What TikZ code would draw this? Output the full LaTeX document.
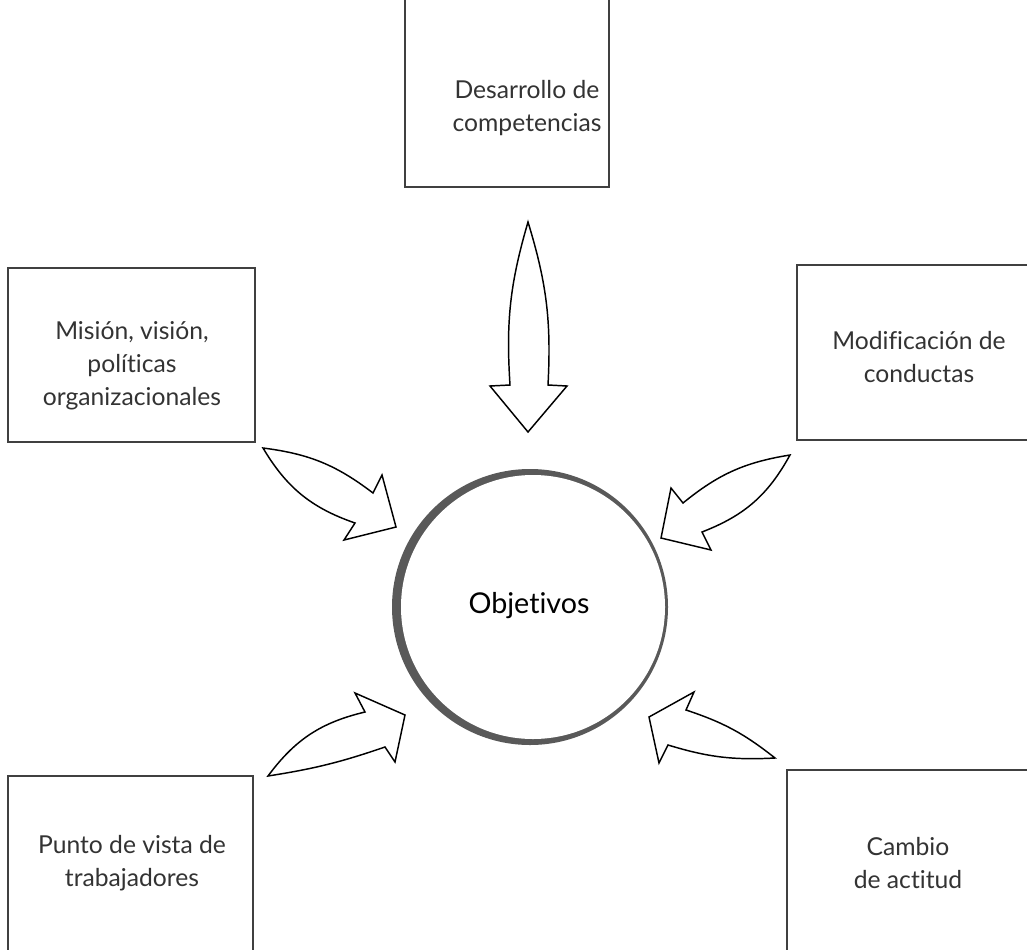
\documentclass[tikz,border=0pt]{standalone}
\usepackage{fontspec}
\setmainfont{Lato}[Ligatures=NoCommon]
\usetikzlibrary{calc}
\newcommand{\bladearrow}[8]{\filldraw[blade] #1 to[bend left=#7] #2 -- #3 -- #4 -- #5 -- #6 to[bend left=#8] #1 -- cycle;}

\begin{document}
\begin{tikzpicture}[x=0.75pt,y=-0.75pt,
    boxline/.style={draw=black!75,line width=1.9pt},
    boxtext/.style={align=center,font=\fontsize{18.5}{24.75}\selectfont,text=black!80},
    blade/.style={draw=black,fill=white,line width=1.1pt,line join=miter}]
    \useasboundingbox (0,0) rectangle (1027,949);
    %boxes
    \draw[boxline] (405,-10) rectangle (609,187);
    \draw[boxline] (8,268) rectangle (255,442);
    \draw[boxline] (797,265) rectangle (1040,440);
    \draw[boxline] (8,776) rectangle (253,960);
    \draw[boxline] (787,770) rectangle (1040,960);
    \node[boxtext] (desarrollo) at (527,108) {Desarrollo de\\competencias};
    \node[boxtext] (mision) at (132,366) {Misión, visión,\\políticas\\organizacionales};
    \node[boxtext] (modificacion) at (919,357) {Modificación de\\conductas};
    \node[boxtext] (punto) at (132,863) {Punto de vista de\\trabajadores};
    \node[boxtext] (cambio) at (908,863) {Cambio\\de actitud};
    %center
    \fill[black!65] (530,607) circle (138);
    \fill[white] (533,607) circle (132);
    \node[font=\fontsize{21.5}{24}\selectfont] (objetivos) at (529,606) {Objetivos};
    %arrows
    \bladearrow{(528,222)}{(510,385)}{(490,386)}{(528,432)}{(567,386)}{(548,385)}{-10}{-10}
    \bladearrow{(263,448)}{(373,493)}{(382,475)}{(396,527)}{(344,540)}{(355,523)}{15}{20}
    \bladearrow{(790,455)}{(683,503)}{(671,488)}{(661,538)}{(711,550)}{(702,532)}{-15}{-20}
    \bladearrow{(268,776)}{(365,712)}{(355,693)}{(405,715)}{(395,762)}{(385,747)}{20}{5}
    \bladearrow{(775,758)}{(686,710)}{(694,692)}{(649,717)}{(659,763)}{(668,745)}{-10}{-10}
\end{tikzpicture}
\end{document}
